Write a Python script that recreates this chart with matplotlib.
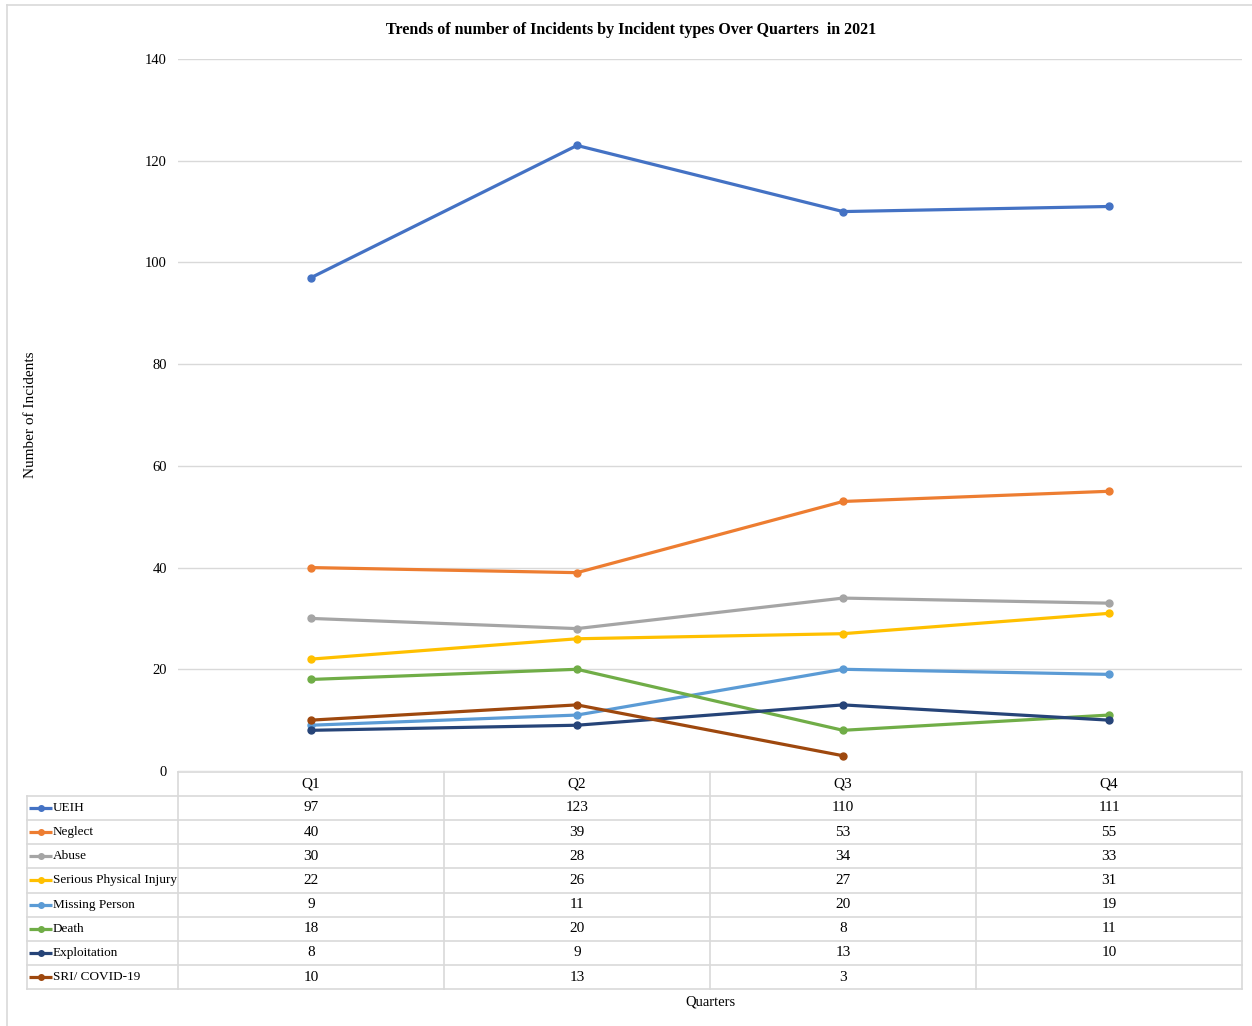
import numpy as np
import matplotlib
matplotlib.use("Agg")
import matplotlib.pyplot as plt

plt.rcParams['font.family'] = ['Liberation Serif', 'DejaVu Serif']

quarters = ["Q1", "Q2", "Q3", "Q4"]
series_names = ["UEIH", "Neglect", "Abuse", "Serious Physical Injury",
                "Missing Person", "Death", "Exploitation", "SRI/ COVID-19"]
ueih = [97, 123, 110, 111]
neglect = [40, 39, 53, 55]
abuse = [30, 28, 34, 33]
serious_injury = [22, 26, 27, 31]
missing_person = [9, 11, 20, 19]
death = [18, 20, 8, 11]
exploitation = [8, 9, 13, 10]
sri_covid = [10, 13, 3, None]
series_values = [ueih, neglect, abuse, serious_injury, missing_person,
                 death, exploitation, sri_covid]
colors = ["#4472C4", "#ED7D31", "#A5A5A5", "#FFC000",
          "#5B9BD5", "#70AD47", "#264478", "#9E480E"]
y_ticks = [0, 20, 40, 60, 80, 100, 120, 140]

W, H = 1252, 1026
fig = plt.figure(figsize=(W / 100, H / 100), dpi=100)
fig.patch.set_facecolor("white")

# pixel-space overlay for the data table, frame and labels
ov = fig.add_axes([0, 0, 1, 1], zorder=0)
ov.set_xlim(0, W)
ov.set_ylim(H, 0)
ov.axis("off")
ov.patch.set_alpha(0)

# plot area in pixels
px_l, px_r, px_t, px_b = 178, 1242, 59, 771
ax = fig.add_axes([px_l / W, (H - px_b) / H, (px_r - px_l) / W, (px_b - px_t) / H], zorder=2)
ax.patch.set_alpha(0)
ax.set_xlim(-0.5, len(quarters) - 0.5)
ax.set_ylim(0, 140)
ax.set_yticks(y_ticks)
ax.set_yticklabels([str(t) for t in y_ticks], fontsize=10.5)
ax.set_xticks([])
ax.tick_params(axis="y", length=0, pad=8)
for s in ax.spines.values():
    s.set_visible(False)
ax.grid(axis="y", color="#D9D9D9", linewidth=1.0)
ax.set_axisbelow(True)

x = np.arange(len(quarters))
for vals, col in zip(series_values, colors):
    v = np.array([np.nan if a is None else a for a in vals], dtype=float)
    ax.plot(x, v, color=col, linewidth=2.3, marker="o", markersize=5,
            solid_capstyle="round", zorder=3)

# data table
grid_col = "#D9D9D9"
row_h = 24.2
header_top = 771.5
rows_top = header_top + row_h
n_rows = len(series_names)
table_bottom = rows_top + n_rows * row_h
col_w = (px_r - px_l) / len(quarters)
legend_l = 26.5

# horizontal lines
ov.plot([px_l, px_r], [header_top, header_top], color=grid_col, lw=1.2)
for i in range(n_rows + 1):
    yy = rows_top + i * row_h
    ov.plot([legend_l, px_r], [yy, yy], color=grid_col, lw=1.2)
# vertical lines
ov.plot([legend_l, legend_l], [rows_top, table_bottom], color=grid_col, lw=1.2)
for j in range(len(quarters) + 1):
    xx = px_l + j * col_w
    ov.plot([xx, xx], [header_top, table_bottom], color=grid_col, lw=1.2)

for j, q in enumerate(quarters):
    ov.text(px_l + (j + 0.5) * col_w, header_top + row_h / 2, q,
            ha="center", va="center", fontsize=11)

for i, (name, vals, col) in enumerate(zip(series_names, series_values, colors)):
    yc = rows_top + (i + 0.5) * row_h
    ov.plot([29, 52], [yc, yc], color=col, lw=2.3, solid_capstyle="butt")
    ov.plot([40.5], [yc], marker="o", markersize=4, color=col)
    ov.text(53, yc, name, ha="left", va="center", fontsize=9.5)
    for j, v in enumerate(vals):
        if v is not None:
            ov.text(px_l + (j + 0.5) * col_w, yc, str(v),
                    ha="center", va="center", fontsize=11)

# frame
ov.plot([7, W], [5, 5], color=grid_col, lw=1.2)
ov.plot([7, 7], [5, H], color=grid_col, lw=1.2)

# titles
ov.text(631, 30, "Trends of number of Incidents by Incident types Over Quarters  in 2021",
        ha="center", va="center", fontsize=11.5, fontweight="bold")
ov.text((px_l + px_r) / 2, 1002, "Quarters", ha="center", va="center", fontsize=10.5)
ov.text(30, 415, "Number of Incidents", ha="center", va="center",
        rotation=90, fontsize=11)

fig.savefig("out.png", dpi=100, facecolor="white")
